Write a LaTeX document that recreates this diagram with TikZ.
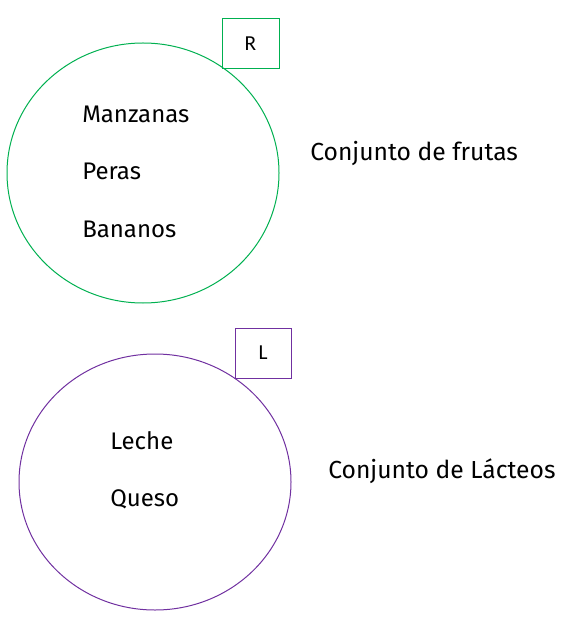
\documentclass[tikz,border=0pt]{standalone}
\usepackage{fontspec}
\setmainfont{Fira Sans}
\newfontfamily\boxfont{Carlito}
\definecolor{setgreen}{RGB}{0,176,80}
\definecolor{setpurple}{RGB}{112,48,160}
\begin{document}
\begin{tikzpicture}[x=0.75pt,y=-0.75pt,
  setline/.style={line width=0.75pt},
  label/.style={font=\boxfont\fontsize{16}{19}\selectfont, inner sep=0pt},
  item/.style={font=\fontsize{18}{21}\selectfont, inner sep=0pt, anchor=base west},
  title/.style={font=\fontsize{18.5}{22}\selectfont, inner sep=0pt, anchor=base west}]
\useasboundingbox (0,0) rectangle (569,627);
% set R
\draw[setline, setgreen] (143,173) ellipse [x radius=136, y radius=130];
\node[draw=setgreen, setline, minimum width=57*0.75pt, minimum height=50*0.75pt] (boxR) at (250.5,44) {};
\node[label] (R) at (boxR.center) {R};
\node[item] (manz) at (82,123) {Manzanas};
\node[item] (peras) at (82,180) {Peras};
\node[item] (banan) at (82,237) {Bananos};
\node[title] (frutas) at (310,161) {Conjunto de frutas};
% set L
\draw[setline, setpurple] (155,482) ellipse [x radius=136, y radius=128];
\node[draw=setpurple, setline, minimum width=56*0.75pt, minimum height=50*0.75pt] (boxL) at (263,353) {};
\node[label] (L) at (boxL.center) {L};
\node[item] (leche) at (110,449) {Leche};
\node[item] (queso) at (110,506) {Queso};
\node[title] (lacteos) at (328,478) {Conjunto de Lácteos};
\end{tikzpicture}
\end{document}
